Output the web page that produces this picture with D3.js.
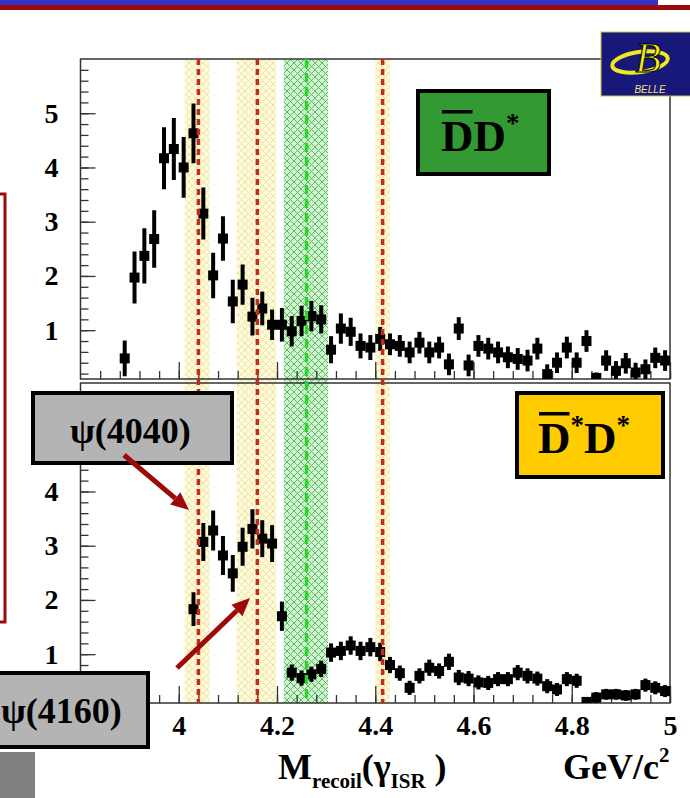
<!DOCTYPE html>
<html>
<head>
<meta charset="utf-8">
<script src="https://cdn.jsdelivr.net/npm/d3@7"></script>
<style>
  body { margin: 0; background: #fff; }
  svg { display: block; }
  text { font-family: "Liberation Serif", "Times New Roman", serif; }
</style>
</head>
<body>
<div id="chart"></div>
<script>
// D Dbar* (top panel): bin centres, cross section, error
let ddX = [3.89, 3.91, 3.93, 3.95, 3.97, 3.99, 4.01, 4.03, 4.05, 4.07, 4.09, 4.11, 4.13, 4.15,
           4.17, 4.19, 4.21, 4.23, 4.25, 4.27, 4.29, 4.31, 4.33, 4.35, 4.37, 4.39, 4.41, 4.43,
           4.45, 4.47, 4.49, 4.51, 4.53, 4.55, 4.57, 4.59, 4.61, 4.63, 4.65, 4.67, 4.69, 4.71,
           4.73, 4.75, 4.77, 4.79, 4.81, 4.83, 4.85, 4.87, 4.89, 4.91, 4.93, 4.95, 4.97, 4.99];
let ddY = [0.48, 1.97, 2.37, 2.68, 4.17, 4.34, 4.00, 4.63, 3.15, 2.01, 2.69, 1.53, 1.84, 1.25,
           1.40, 1.10, 1.10, 0.98, 1.17, 1.26, 1.20, 0.64, 1.03, 0.97, 0.71, 0.68, 0.84, 0.74,
           0.71, 0.59, 0.77, 0.59, 0.68, 0.37, 1.03, 0.35, 0.71, 0.66, 0.59, 0.50, 0.47, 0.44,
           0.66, 0.19, 0.40, 0.68, 0.40, 0.80, 0.12, 0.44, 0.25, 0.39, 0.22, 0.28, 0.49, 0.44];
let ddErr = [0.33, 0.48, 0.51, 0.53, 0.57, 0.57, 0.56, 0.55, 0.48, 0.42, 0.41, 0.40, 0.37, 0.35,
             0.31, 0.28, 0.31, 0.28, 0.28, 0.28, 0.26, 0.25, 0.28, 0.26, 0.23, 0.23, 0.22, 0.20,
             0.20, 0.20, 0.20, 0.20, 0.20, 0.20, 0.21, 0.20, 0.20, 0.20, 0.20, 0.20, 0.20, 0.20,
             0.20, 0.18, 0.19, 0.20, 0.19, 0.20, 0.10, 0.19, 0.18, 0.19, 0.18, 0.18, 0.19, 0.19];

// D*bar D* (bottom panel)
let dsX = [4.03, 4.05, 4.07, 4.09, 4.11, 4.13, 4.15, 4.17, 4.19, 4.21, 4.23, 4.25, 4.27, 4.29,
           4.31, 4.33, 4.35, 4.37, 4.39, 4.41, 4.43, 4.45, 4.47, 4.49, 4.51, 4.53, 4.55, 4.57,
           4.59, 4.61, 4.63, 4.65, 4.67, 4.69, 4.71, 4.73, 4.75, 4.77, 4.79, 4.81, 4.83, 4.85,
           4.87, 4.89, 4.91, 4.93, 4.95, 4.97, 4.99];
let dsY = [1.83, 3.07, 3.28, 2.82, 2.49, 2.98, 3.31, 3.13, 3.04, 1.70, 0.66, 0.56, 0.63, 0.73,
           1.03, 1.06, 1.16, 1.06, 1.13, 1.04, 0.80, 0.65, 0.38, 0.60, 0.75, 0.69, 0.86, 0.57,
           0.55, 0.48, 0.47, 0.54, 0.54, 0.66, 0.60, 0.55, 0.41, 0.35, 0.54, 0.51, 0.12, 0.20,
           0.26, 0.26, 0.24, 0.26, 0.43, 0.38, 0.32];
let dsErr = [0.31, 0.35, 0.37, 0.36, 0.34, 0.35, 0.36, 0.34, 0.34, 0.27, 0.15, 0.14, 0.14, 0.15,
             0.17, 0.17, 0.17, 0.17, 0.17, 0.17, 0.15, 0.14, 0.13, 0.14, 0.15, 0.14, 0.15, 0.14,
             0.14, 0.13, 0.13, 0.13, 0.13, 0.14, 0.14, 0.13, 0.13, 0.12, 0.13, 0.13, 0.08, 0.10,
             0.10, 0.10, 0.10, 0.10, 0.12, 0.12, 0.11];

// resonance lines and their bands
let resX   = [4.04, 4.16, 4.26, 4.415];
let bandLo = [4.012, 4.118, 4.214, 4.400];
let bandHi = [4.063, 4.198, 4.304, 4.430];
let bandKind = ["yellow", "yellow", "green", "yellow"];

let xTickVals = [4, 4.2, 4.4, 4.6, 4.8, 5];
let xTickText = ["4", "4.2", "4.4", "4.6", "4.8", "5"];
let yTickVals = [1, 2, 3, 4, 5];

let width = 690, height = 798;

let svg = d3.select("#chart").append("svg")
    .attr("width", width)
    .attr("height", height);

let defs = svg.append("defs");

function hatch(id, bg, line, size) {
  let p = defs.append("pattern")
      .attr("id", id)
      .attr("patternUnits", "userSpaceOnUse")
      .attr("width", size).attr("height", size);
  p.append("rect").attr("width", size).attr("height", size).attr("fill", bg);
  p.append("path")
      .attr("d", `M0,0L${size},${size}M${size},0L0,${size}`)
      .attr("stroke", line).attr("stroke-width", 1);
}
hatch("hatch-yellow", "#fdfadf", "#efe597", 7);
hatch("hatch-green", "#d6f2d6", "#4fc24f", 7);

let x = d3.scaleLinear().domain([3.8, 5.0]).range([80.5, 670]);

let panels = [
  { top: 59,  bottom: 379, X: ddX, Y: ddY, E: ddErr, xLabels: false },
  { top: 383, bottom: 703, X: dsX, Y: dsY, E: dsErr, xLabels: true }
];

// slide decoration
svg.append("rect").attr("x", 0).attr("y", 0).attr("width", 658).attr("height", 5).attr("fill", "#3434c4");
svg.append("rect").attr("x", 0).attr("y", 5).attr("width", width).attr("height", 5).attr("fill", "#9c0a0a");
svg.append("path")
    .attr("d", "M0,194H5V622H0")
    .attr("fill", "none").attr("stroke", "#9c0a0a").attr("stroke-width", 3);
svg.append("rect").attr("x", 0).attr("y", 752).attr("width", 35).attr("height", 46).attr("fill", "#808080");

// bands behind both panels
let bandTop = panels[0].top, bandBottom = panels[1].bottom;
svg.append("g").selectAll("rect")
  .data(resX)
  .join("rect")
    .attr("x", (d, i) => x(bandLo[i]))
    .attr("width", (d, i) => x(bandHi[i]) - x(bandLo[i]))
    .attr("y", bandTop)
    .attr("height", bandBottom - bandTop)
    .attr("fill", (d, i) => `url(#hatch-${bandKind[i]})`);

panels.forEach(function(p, k) {
  let y = d3.scaleLinear().domain([0.1, 6.0]).range([p.bottom, p.top]);
  let g = svg.append("g");

  defs.append("clipPath").attr("id", "clip" + k)
    .append("rect")
      .attr("x", x.range()[0]).attr("y", p.top)
      .attr("width", x.range()[1] - x.range()[0])
      .attr("height", p.bottom - p.top);

  // minor / major y ticks, drawn inward
  g.append("g")
      .attr("transform", translate(x.range()[0], 0))
      .call(d3.axisLeft(y).tickValues(d3.range(0.2, 6.0, 0.2)).tickSizeInner(-8).tickSizeOuter(0).tickFormat(""))
      .call(a => a.select(".domain").remove());
  g.append("g")
      .attr("transform", translate(x.range()[0], 0))
      .call(d3.axisLeft(y).tickValues(yTickVals).tickSizeInner(-15).tickSizeOuter(0).tickPadding(22).tickFormat(d3.format("d")))
      .call(a => a.select(".domain").remove());

  // x ticks, drawn upward
  g.append("g")
      .attr("transform", translate(0, p.bottom))
      .call(d3.axisBottom(x).tickValues(d3.range(3.84, 5.0, 0.04)).tickSizeInner(-8).tickSizeOuter(0).tickFormat(""))
      .call(a => a.select(".domain").remove());
  g.append("g")
      .attr("transform", translate(0, p.bottom))
      .call(d3.axisBottom(x).tickValues(xTickVals).tickSizeInner(-17).tickSizeOuter(0).tickPadding(12)
              .tickFormat((d, i) => p.xLabels ? xTickText[i] : ""))
      .call(a => a.select(".domain").remove());

  g.selectAll(".tick line").attr("stroke", "#333").attr("stroke-width", 1.3);
  g.selectAll(".tick text")
      .attr("fill", "#000")
      .style("font-family", "'Liberation Serif', serif")
      .style("font-weight", "bold")
      .style("font-size", "28px");

  // frame
  g.append("rect")
      .attr("x", x.range()[0]).attr("y", p.top)
      .attr("width", x.range()[1] - x.range()[0])
      .attr("height", p.bottom - p.top)
      .attr("fill", "none").attr("stroke", "#333").attr("stroke-width", 1.5);

  // points with error bars
  let pts = g.append("g").attr("clip-path", `url(#clip${k})`)
    .selectAll("g")
    .data(p.X)
    .join("g");
  pts.append("line")
      .attr("x1", d => x(d)).attr("x2", d => x(d))
      .attr("y1", (d, i) => y(p.Y[i] + p.E[i]))
      .attr("y2", (d, i) => y(p.Y[i] - p.E[i]))
      .attr("stroke", "#000").attr("stroke-width", 4);
  pts.append("rect")
      .attr("x", d => x(d) - 5)
      .attr("y", (d, i) => y(p.Y[i]) - 5)
      .attr("width", 10).attr("height", 10)
      .attr("fill", "#000");
});

// dashed resonance lines
svg.append("g").selectAll("line")
  .data(resX)
  .join("line")
    .attr("x1", d => x(d)).attr("x2", d => x(d))
    .attr("y1", bandTop).attr("y2", bandBottom)
    .attr("stroke", (d, i) => bandKind[i] == "green" ? "#2ed42e" : "#c62a1e")
    .attr("stroke-width", 3.5)
    .attr("stroke-dasharray", (d, i) => bandKind[i] == "green" ? "9,5" : "6,4");

// axis title
let title = svg.append("text").attr("x", 278).attr("y", 779)
    .attr("font-size", 36).attr("font-weight", "bold").attr("fill", "#000");
title.append("tspan").text("M");
title.append("tspan").attr("font-size", 21).attr("dy", 9).text("recoil");
title.append("tspan").attr("dy", -9).text("(γ");
title.append("tspan").attr("font-size", 21).attr("dy", 9).text("ISR");
title.append("tspan").attr("dy", -9).text(" )");

let unit = svg.append("text").attr("x", 563).attr("y", 779)
    .attr("font-size", 36).attr("font-weight", "bold").attr("fill", "#000");
unit.append("tspan").text("GeV/c");
unit.append("tspan").attr("font-size", 21).attr("dy", -17).text("2");

// channel boxes
function channelBox(x0, y0, w, h, fill, parts, tx, ty) {
  svg.append("rect")
      .attr("x", x0).attr("y", y0).attr("width", w).attr("height", h)
      .attr("fill", fill).attr("stroke", "#000").attr("stroke-width", 4);
  let t = svg.append("text").attr("x", tx).attr("y", ty)
      .attr("font-size", 45).attr("font-weight", "bold").attr("fill", "#000");
  let raised = false;
  parts.forEach(function(s) {
    if (s == "*") {
      t.append("tspan").attr("font-size", 27).attr("dy", -19).text("*");
      raised = true;
    } else {
      t.append("tspan").attr("font-size", 45).attr("dy", raised ? 19 : 0).text(s);
      raised = false;
    }
  });
  // bar over the first D
  let e = t.node().getExtentOfChar(0);
  svg.append("rect")
      .attr("x", e.x + 1).attr("y", ty - 41)
      .attr("width", e.width - 2).attr("height", 3.5)
      .attr("fill", "#000");
}
channelBox(418, 91, 131, 83, "#339933", ["D", "D", "*"], 441, 151);
channelBox(517, 393, 146, 84, "#ffcc00", ["D", "*", "D", "*"], 538, 453);

// resonance labels
function nameBox(x0, y0, w, h, label, tx, ty) {
  svg.append("rect")
      .attr("x", x0).attr("y", y0).attr("width", w).attr("height", h)
      .attr("fill", "#b4b4b4").attr("stroke", "#000").attr("stroke-width", 4);
  svg.append("text").attr("x", tx).attr("y", ty)
      .attr("font-size", 36).attr("font-weight", "bold").attr("fill", "#000")
      .text(label);
}
nameBox(33, 393, 199, 70, "ψ(4040)", 70, 443);
nameBox(-4, 673, 152, 74, "ψ(4160)", 1, 723);

// arrows
function arrow(x1, y1, x2, y2) {
  let a = Math.atan2(y2 - y1, x2 - x1), L = 18, Wd = 8;
  let bx = x2 - L * Math.cos(a), by = y2 - L * Math.sin(a);
  svg.append("line")
      .attr("x1", x1).attr("y1", y1).attr("x2", bx).attr("y2", by)
      .attr("stroke", "#9c0a0a").attr("stroke-width", 5);
  svg.append("path")
      .attr("d", `M${x2},${y2}L${bx + Wd * Math.sin(a)},${by - Wd * Math.cos(a)}L${bx - Wd * Math.sin(a)},${by + Wd * Math.cos(a)}Z`)
      .attr("fill", "#9c0a0a");
}
arrow(124, 455, 189, 510);
arrow(177, 668, 250, 598);

// Belle logo
let logo = svg.append("g");
logo.append("rect").attr("x", 601).attr("y", 32).attr("width", 92).attr("height", 64)
    .attr("fill", "#17187a").attr("stroke", "#c9c23a").attr("stroke-width", 1);
logo.append("ellipse").attr("cx", 640).attr("cy", 62).attr("rx", 28).attr("ry", 10)
    .attr("fill", "none").attr("stroke", "#f2ea1c").attr("stroke-width", 4)
    .attr("transform", "rotate(-8,640,62)");
logo.append("text").attr("x", 648).attr("y", 72).attr("text-anchor", "middle")
    .attr("font-size", 42).attr("font-style", "italic").attr("fill", "#f2ea1c")
    .attr("stroke", "#000").attr("stroke-width", 1)
    .text("B");
logo.append("text").attr("x", 650).attr("y", 93).attr("text-anchor", "middle")
    .style("font-family", "'Liberation Sans', sans-serif")
    .attr("font-size", 10).attr("font-style", "italic").attr("fill", "#ece27a")
    .text("BELLE");

function translate(x, y = 0) {
  return "translate({x}, {y})"
          .replace("{x}", x)
          .replace("{y}", y);
}
</script>
</body>
</html>
